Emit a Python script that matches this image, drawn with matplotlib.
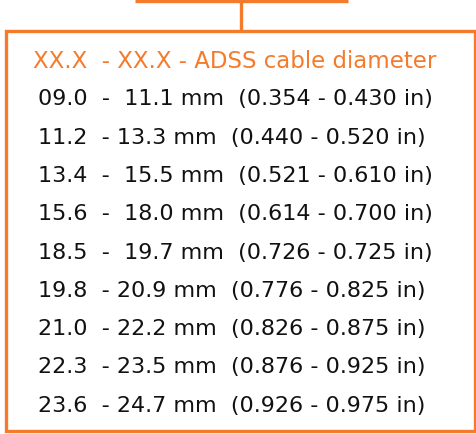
import matplotlib
matplotlib.use("Agg")
import matplotlib.pyplot as plt

title = "XX.X  - XX.X - ADSS cable diameter"
mm_low = ["09.0", "11.2", "13.4", "15.6", "18.5", "19.8", "21.0", "22.3", "23.6"]
mm_high = ["11.1", "13.3", "15.5", "18.0", "19.7", "20.9", "22.2", "23.5", "24.7"]
in_low = ["0.354", "0.440", "0.521", "0.614", "0.726", "0.776", "0.826", "0.876", "0.926"]
in_high = ["0.430", "0.520", "0.610", "0.700", "0.725", "0.825", "0.875", "0.925", "0.975"]
mm_sep = ["  -  ", "  - ", "  -  ", "  -  ", "  -  ", "  - ", "  - ", "  - ", "  - "]

ORANGE = "#F47B2B"
W, H = 477, 435
fig = plt.figure(figsize=(W / 100, H / 100), dpi=100)
ax = fig.add_axes([0, 0, 1, 1])
ax.set_xlim(0, W)
ax.set_ylim(H, 0)
ax.axis("off")

fam = ["DejaVu Sans"]

ax.plot([135, 348], [1.5, 1.5], color=ORANGE, lw=2.4, solid_capstyle="butt")
ax.plot([241, 241], [0, 32], color=ORANGE, lw=2.4, solid_capstyle="butt")
ax.add_patch(plt.Rectangle((6, 32), 469, 400, fill=False, edgecolor=ORANGE, lw=2.4))

y0, pitch = 61, 38.3
ax.text(33, y0, title, color=ORANGE, fontsize=16.5, family=fam, va="center", ha="left")
for i in range(len(mm_low)):
    s = f"{mm_low[i]}{mm_sep[i]}{mm_high[i]} mm  ({in_low[i]} - {in_high[i]} in)"
    ax.text(38, y0 + pitch * (i + 1), s, color="#111111", fontsize=16,
            family=fam, va="center", ha="left")

fig.savefig("out.png", dpi=100)
